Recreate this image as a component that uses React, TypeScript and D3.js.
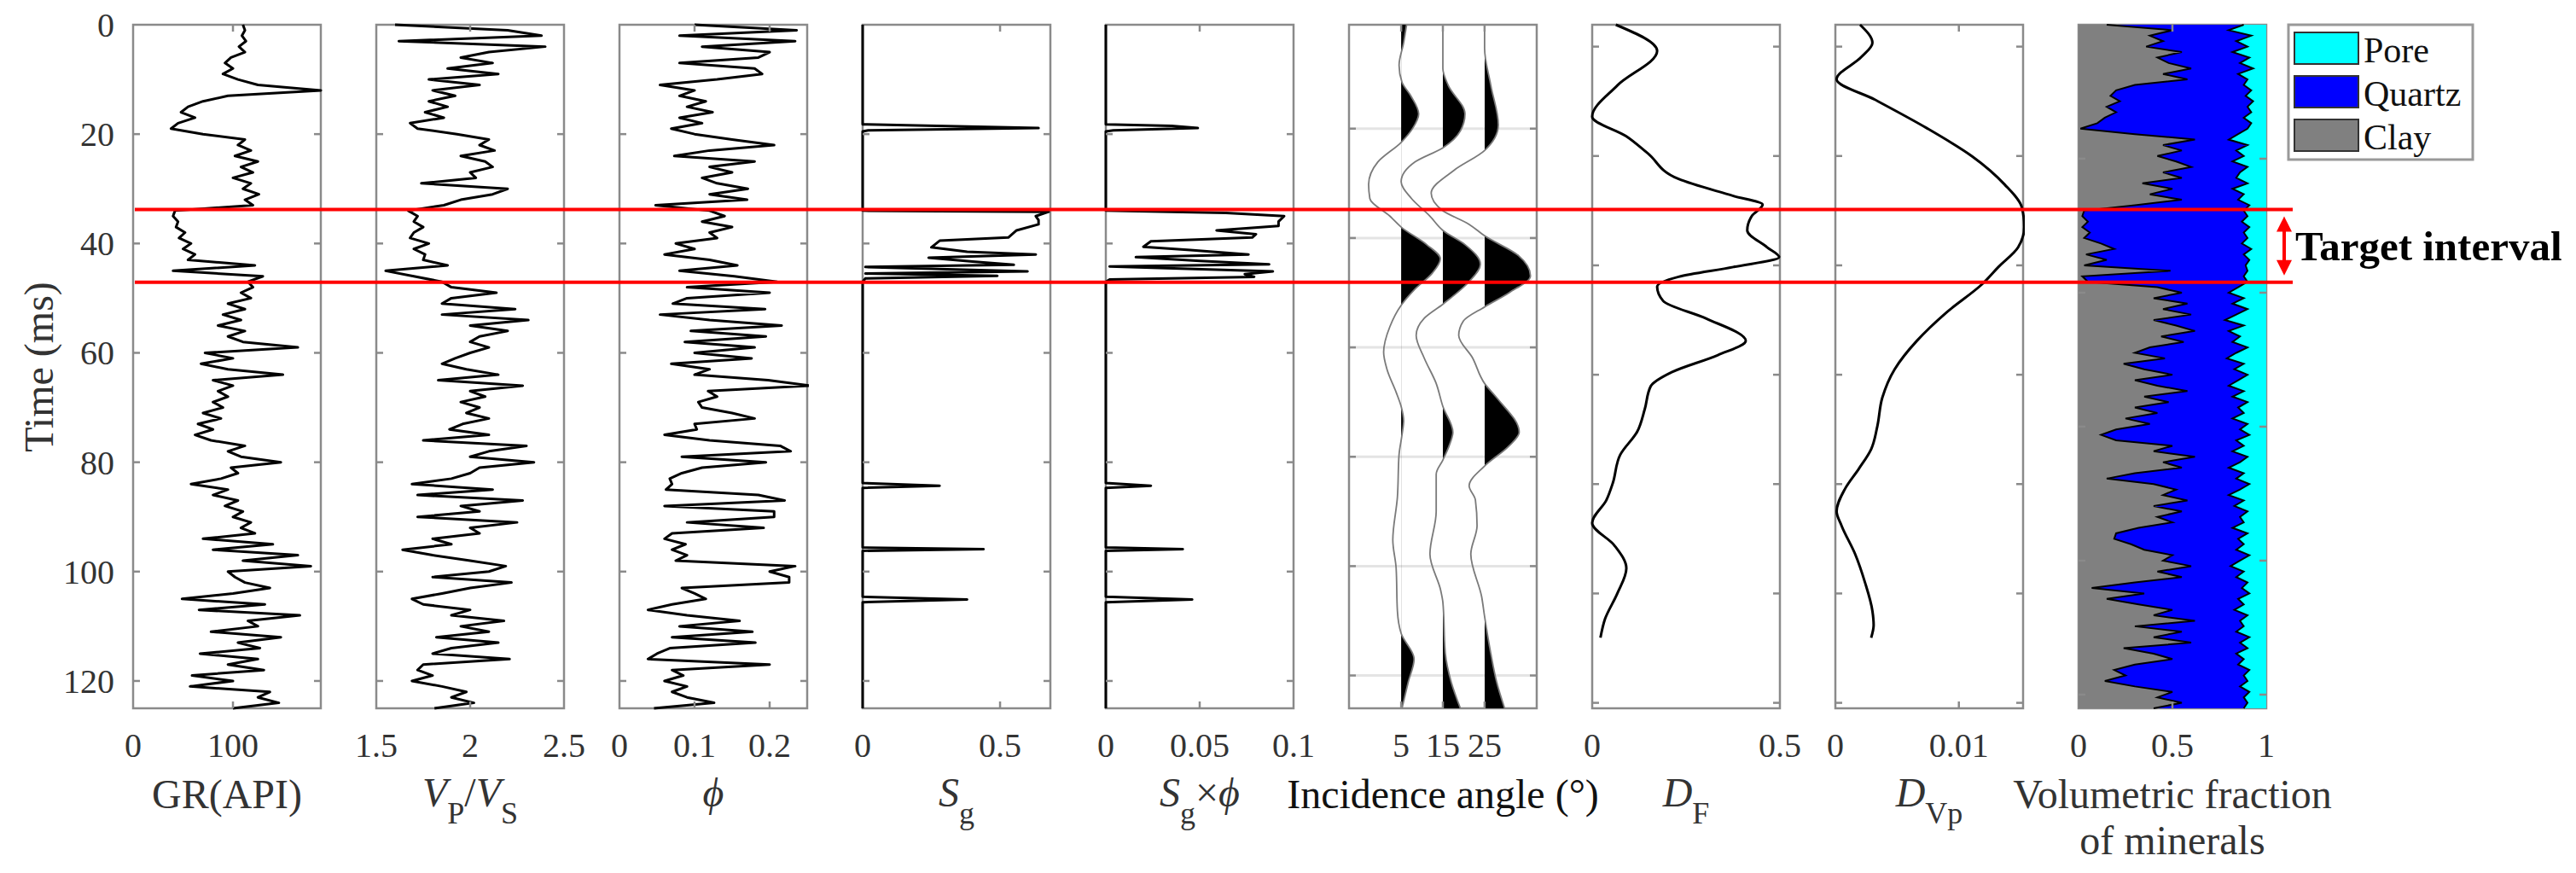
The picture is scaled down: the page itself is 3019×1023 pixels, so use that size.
import React from 'react';
import * as d3 from 'd3';

// page / layout
const WIDTH = 3019;
const HEIGHT = 1023;
const PLOT_TOP = 29;
const PLOT_BOTTOM = 830;
const PANEL_X0 = 156;
const PANEL_STEP = 285;
const PANEL_W = 220;
const FONT = '"Liberation Serif", "Times New Roman", serif';
const AXIS_GRAY = '#8a8a8a';
const TEXT_GRAY = '#333333';

// ---- data (time in ms) ----
const timeMs = d3.range(0, 126); // 1 ms sampling of the logs
const timeTicks = [20, 40, 60, 80, 100, 120];
const timeTickLabels = [0, 20, 40, 60, 80, 100, 120];
const seisTicks = [19, 39, 59, 79, 99, 119];
const attrTicks = [4, 24, 44, 64, 84, 104, 124];
const volTicks = [24.5, 49, 73.5, 98, 122.5];
const targetInterval = [33.8, 47.1];

const grApi = [
  110, 112, 109, 113, 106, 112, 98, 92, 100, 90,
  105, 125, 188, 95, 70, 55, 48, 62, 45, 38,
  70, 112, 105, 118, 102, 125, 108, 120, 100, 118,
  110, 126, 112, 120, 42, 40, 45, 43, 52, 46,
  58, 50, 62, 55, 122, 40, 130, 115, 120, 108,
  118, 95, 112, 90, 108, 85, 112, 95, 110, 165,
  72, 100, 68, 95, 150, 80, 100, 85, 95, 80,
  90, 70, 88, 65, 80, 62, 78, 112, 95, 108,
  148, 98, 105, 88, 58, 95, 80, 105, 92, 110,
  100, 118, 108, 122, 70, 140, 80, 165, 110, 178,
  95, 102, 112, 137, 100, 49, 132, 66, 167, 115,
  125, 78, 148, 105, 127, 67, 125, 95, 131, 59,
  100, 57, 137, 125, 146, 100,
];

const vpVs = [
  1.6, 2.2, 2.38, 1.62, 2.4, 2.1, 1.95, 2.12, 1.88, 2.15,
  1.78, 2.05, 1.8, 1.92, 1.78, 1.88, 1.76, 1.86, 1.68, 1.72,
  1.93, 2.1, 2.05, 2.13, 1.95, 2.08, 2.12, 2.0, 2.03, 1.74,
  2.2, 2.12, 1.95, 1.86, 1.67, 1.72, 1.7, 1.75, 1.7, 1.68,
  1.78, 1.7, 1.76, 1.75, 1.88, 1.55, 1.7, 1.85, 1.9, 2.14,
  1.9, 1.85, 2.24, 1.85, 2.31, 2.0, 2.2, 2.05, 2.0, 2.1,
  2.0, 1.92, 1.85, 1.98, 2.15, 1.83, 2.28, 2.0, 2.08, 1.95,
  2.05, 1.98, 2.1, 1.96, 1.89, 2.1, 1.75, 2.3, 2.1, 2.0,
  2.34, 2.05, 2.0, 1.9, 1.69, 2.12, 1.72, 2.28, 1.95, 2.05,
  1.72, 2.25, 2.0, 2.05, 1.8, 1.9, 1.64, 1.8, 2.0, 2.19,
  2.1, 1.8, 2.22, 2.0, 1.85, 1.69, 1.75, 2.0, 1.9, 2.18,
  1.95, 2.1, 1.82, 2.15, 1.9, 1.8, 2.21, 1.75, 1.72, 1.8,
  1.69, 1.85, 1.98, 1.9, 2.02, 1.81,
];

const porosity = [
  0.1, 0.236, 0.08, 0.234, 0.11, 0.2, 0.185, 0.08, 0.18, 0.19,
  0.13, 0.054, 0.1, 0.08, 0.115, 0.09, 0.124, 0.08, 0.11, 0.069,
  0.1, 0.15, 0.206, 0.12, 0.073, 0.18, 0.12, 0.15, 0.11, 0.13,
  0.171, 0.12, 0.17, 0.048, 0.12, 0.14, 0.11, 0.15, 0.12, 0.13,
  0.075, 0.1, 0.06, 0.12, 0.157, 0.08, 0.153, 0.21, 0.09, 0.2,
  0.09, 0.071, 0.194, 0.054, 0.12, 0.216, 0.095, 0.195, 0.087, 0.18,
  0.1, 0.176, 0.069, 0.12, 0.1, 0.198, 0.253, 0.118, 0.13, 0.105,
  0.11, 0.15, 0.18, 0.1, 0.103, 0.06, 0.12, 0.214, 0.228, 0.083,
  0.195, 0.11, 0.083, 0.067, 0.07, 0.062, 0.185, 0.22, 0.06, 0.206,
  0.206, 0.09, 0.192, 0.07, 0.06, 0.088, 0.07, 0.09, 0.075, 0.234,
  0.2, 0.226, 0.226, 0.083, 0.1, 0.115, 0.07, 0.038, 0.09, 0.16,
  0.08, 0.177, 0.07, 0.181, 0.067, 0.05, 0.038, 0.2, 0.07, 0.085,
  0.06, 0.09, 0.07, 0.09, 0.126, 0.046,
];

// gas saturation: [time, value]
const sgPoints = [
  [0, 0], [18.2, 0], [18.5, 0.27], [18.9, 0.64], [19.3, 0.02], [19.5, 0],
  [34.0, 0], [34.2, 0.677], [35.0, 0.63], [35.7, 0.64], [36.5, 0.64], [37.6, 0.56],
  [38.9, 0.53], [39.5, 0.28], [40.7, 0.25], [41.5, 0.38], [42.0, 0.63], [42.6, 0.24],
  [43.3, 0.4], [43.9, 0.55], [44.3, 0.01], [45.1, 0.6], [45.5, 0.01], [45.9, 0.49],
  [46.4, 0.01], [47.0, 0], [83.8, 0], [84.3, 0.28], [84.7, 0], [95.6, 0], [95.9, 0.44],
  [96.2, 0], [104.6, 0], [105.1, 0.38], [105.6, 0], [125, 0],
];

const sgPhiPoints = [
  [0, 0], [18.2, 0], [18.5, 0.035], [18.9, 0.049], [19.3, 0.004], [19.5, 0],
  [34.0, 0], [34.4, 0.064], [35.0, 0.095], [36.0, 0.092], [36.8, 0.092], [37.6, 0.059],
  [38.3, 0.08], [38.9, 0.078], [39.6, 0.024], [40.6, 0.02], [41.2, 0.045], [42.0, 0.076],
  [42.5, 0.016], [43.2, 0.05], [43.8, 0.087], [44.2, 0.002], [45.1, 0.089], [45.6, 0.074],
  [46.1, 0.079], [46.6, 0.002], [47.0, 0], [83.8, 0], [84.3, 0.024], [84.7, 0],
  [95.6, 0], [95.9, 0.041], [96.2, 0], [104.6, 0], [105.1, 0.046], [105.6, 0], [125, 0],
];

// synthetic gathers: [time, amplitude (in axis degrees)]
const incidenceAngles = [5, 15, 25];
const trace5 = [
  [0, 1.3], [3.3, 0.6], [7.4, -0.5], [10.5, 0.2], [13.1, 2.4], [16.3, 4.2], [18.9, 2.8],
  [21.5, 0], [25.1, -5.6], [29.2, -7.8], [31.8, -7.5], [35, -2.7], [37, 0], [40.2, 6.1],
  [42.8, 9.4], [45.4, 7.5], [48.5, 3.1], [51.3, 0], [55.2, -2.7], [59.9, -4.2], [63, -3.4],
  [67.2, -1.2], [69.8, 0], [72.4, 0.6], [75, 0.2], [78.6, -0.5], [86.4, -0.9], [94.2, -2.0],
  [99.4, -1.2], [107.2, -0.9], [111.3, 0], [116, 3.1], [120.2, 1.7], [125, 0.2],
];
const trace15 = [
  [0, 0], [8, 0], [11.1, 1.3], [16.3, 5.3], [19.4, 4.2], [22.5, 0], [25.1, -6.7],
  [28.7, -10], [31.8, -7.5], [35, -3.1], [37.6, 0], [40.2, 5.3], [43.8, 9.0], [46.9, 6.4],
  [51.1, 0], [53.7, -4.5], [56.8, -6.4], [60.9, -4.5], [65.6, -1.6], [69.8, 0], [74.5, 2.4],
  [77, 1.5], [79.6, 0], [82.2, -1.6], [89, -1.6], [96.8, -3.1], [103.5, -0.5], [105.6, 0],
  [115, 0.6], [120.2, 2.0], [125, 4.2],
];
const trace25 = [
  [0, 0], [4.3, 0], [11.1, 1.5], [18.3, 3.3], [23, 0], [26.6, -7.3], [30.8, -12.8],
  [33.9, -10.2], [36.5, -3.7], [38.6, 0], [42.2, 8.1], [45.9, 11.0], [49, 5.9], [51.6, 0],
  [54.2, -5.1], [56.8, -6.2], [60.9, -2.9], [65.6, 0], [68.2, 2.9], [74.5, 8.3], [77, 5.9],
  [80.7, 0], [84.3, -3.7], [86.9, -2.2], [91.6, -1.8], [96.8, -3.3], [104.6, -0.7],
  [108.2, 0], [115, 1.5], [120.2, 2.9], [125, 4.8],
];
const traces = [trace5, trace15, trace25];

const dfPoints = [
  [0, 0.063], [4.8, 0.173], [11.1, 0.067], [16.8, 0.0], [20.4, 0.091], [23.5, 0.148],
  [28.2, 0.23], [31.3, 0.376], [32.9, 0.454], [35, 0.425], [37.6, 0.413], [40.7, 0.466],
  [42.5, 0.498], [44.3, 0.376], [46.1, 0.23], [47.9, 0.173], [50.5, 0.189], [53.7, 0.303],
  [57.8, 0.409], [60.4, 0.335], [63.5, 0.213], [66.1, 0.156], [70.3, 0.14], [74.4, 0.12],
  [78.6, 0.075], [83.8, 0.055], [86.9, 0.038], [91.1, 0.0], [95.2, 0.059], [99.4, 0.091],
  [104, 0.067], [108.7, 0.034], [112.1, 0.022],
];

const dvpPoints = [
  [0, 0.002], [3.3, 0.003], [5.9, 0.0021], [10, 0.0001], [13.7, 0.0032], [18.9, 0.0074],
  [24.1, 0.0111], [29.2, 0.0137], [33.4, 0.0151], [37, 0.0153], [40.7, 0.0148],
  [44.3, 0.0132], [47.4, 0.0119], [52.6, 0.009], [57.8, 0.0066], [63, 0.0048],
  [68.2, 0.0038], [73.4, 0.0034], [77.6, 0.0029], [81.2, 0.0019], [84.8, 0.0008],
  [89, 0.0001], [91.6, 0.0005], [96.8, 0.0016], [102, 0.0024], [107.2, 0.003],
  [109.8, 0.0031], [112.1, 0.0029],
];

// volumetric fractions
const clayFrac = [
  0.15, 0.5, 0.38, 0.45, 0.36, 0.55, 0.42, 0.48, 0.6, 0.45,
  0.58, 0.3, 0.2, 0.17, 0.22, 0.15, 0.2, 0.14, 0.1, 0.01,
  0.3, 0.62, 0.45, 0.55, 0.42, 0.52, 0.6, 0.45, 0.55, 0.34,
  0.5, 0.38, 0.55, 0.3, 0.03, 0.02, 0.05, 0.02, 0.06, 0.03,
  0.12, 0.19, 0.04, 0.15, 0.03, 0.49, 0.02, 0.05, 0.42, 0.55,
  0.4, 0.58, 0.45, 0.6, 0.4, 0.52, 0.62, 0.44, 0.56, 0.38,
  0.3, 0.46, 0.24, 0.35, 0.5, 0.3, 0.42, 0.58, 0.35, 0.48,
  0.3, 0.42, 0.25, 0.38, 0.2, 0.12, 0.2, 0.5, 0.4, 0.62,
  0.45, 0.55, 0.3, 0.15, 0.4, 0.52, 0.45, 0.58, 0.4, 0.55,
  0.42, 0.5, 0.32, 0.2, 0.19, 0.28, 0.35, 0.5, 0.45, 0.6,
  0.42, 0.55, 0.3, 0.07, 0.35, 0.15, 0.32, 0.5, 0.4, 0.62,
  0.3, 0.55, 0.4, 0.6, 0.24, 0.4, 0.5, 0.3, 0.19, 0.25,
  0.14, 0.3, 0.5, 0.42, 0.55, 0.4,
];
const poreFrac = [
  0.12, 0.2, 0.08, 0.16, 0.1, 0.18, 0.09, 0.14, 0.07, 0.15,
  0.1, 0.12, 0.08, 0.11, 0.07, 0.1, 0.08, 0.12, 0.08, 0.1,
  0.15, 0.2, 0.1, 0.16, 0.12, 0.18, 0.1, 0.14, 0.16, 0.1,
  0.18, 0.12, 0.15, 0.09, 0.12, 0.1, 0.13, 0.09, 0.12, 0.1,
  0.13, 0.08, 0.12, 0.09, 0.11, 0.1, 0.12, 0.1, 0.15, 0.2,
  0.12, 0.18, 0.1, 0.16, 0.22, 0.12, 0.2, 0.14, 0.18, 0.1,
  0.16, 0.21, 0.12, 0.17, 0.1, 0.15, 0.2, 0.12, 0.18, 0.1,
  0.15, 0.12, 0.18, 0.1, 0.14, 0.09, 0.16, 0.12, 0.18, 0.1,
  0.14, 0.2, 0.12, 0.16, 0.09, 0.14, 0.2, 0.12, 0.17, 0.1,
  0.14, 0.12, 0.18, 0.1, 0.15, 0.12, 0.16, 0.09, 0.14, 0.19,
  0.12, 0.16, 0.1, 0.13, 0.09, 0.15, 0.12, 0.17, 0.1, 0.14,
  0.12, 0.16, 0.09, 0.14, 0.1, 0.16, 0.12, 0.15, 0.09, 0.12,
  0.1, 0.14, 0.09, 0.12, 0.1, 0.12,
];
const mineralNames = ['Pore', 'Quartz', 'Clay'];
const mineralColors = ['#00ffff', '#0000ff', '#808080'];

// ---- scales ----
const y = d3.scaleLinear().domain([0, 125]).range([PLOT_TOP, PLOT_BOTTOM]);

function panelX(i: number, domain: number[]) {
  const left = PANEL_X0 + i * PANEL_STEP;
  return d3.scaleLinear().domain(domain).range([left, left + PANEL_W]);
}

const xGr = panelX(0, [0, 188]);
const xVp = panelX(1, [1.5, 2.5]);
const xPhi = panelX(2, [0, 0.25]);
const xSg = panelX(3, [0, 0.683]);
const xSgPhi = panelX(4, [0, 0.1]);
const xInc = panelX(5, [-7.5, 37.5]);
const xDf = panelX(6, [0, 0.5]);
const xDvp = panelX(7, [0, 0.0152]);
const xVol = panelX(8, [0, 1]);

function logLine(x: any, values: number[]) {
  return d3.line<number>()
    .x((d) => x(values[d]))
    .y((d) => y(timeMs[d]))(d3.range(values.length)) as string;
}

function pairLine(x: any, pts: number[][], curve: any = d3.curveLinear) {
  return d3.line<number[]>()
    .x((d) => x(d[1]))
    .y((d) => y(d[0]))
    .curve(curve)(pts) as string;
}

function Frame({ x, yTicks, grid }: any) {
  const [l, r] = x.range();
  return (
    <g>
      {grid && yTicks.map((t: number) => (
        <line key={'g' + t} x1={l} x2={r} y1={y(t)} y2={y(t)} stroke="#e4e4e4" strokeWidth={3} />
      ))}
      <rect x={l} y={PLOT_TOP} width={r - l} height={PLOT_BOTTOM - PLOT_TOP} fill="none"
        stroke={AXIS_GRAY} strokeWidth={2.5} />
    </g>
  );
}

function Ticks({ x, xTicks, yTicks }: any) {
  const [l, r] = x.range();
  const len = 8;
  const [d0, d1] = x.domain();
  const inner = xTicks.filter((v: number) => v !== d0 && v !== d1);
  return (
    <g stroke={AXIS_GRAY} strokeWidth={2.5}>
      {yTicks.map((t: number) => (
        <g key={'y' + t}>
          <line x1={l} x2={l + len} y1={y(t)} y2={y(t)} />
          <line x1={r - len} x2={r} y1={y(t)} y2={y(t)} />
        </g>
      ))}
      {inner.map((v: number) => (
        <g key={'x' + v}>
          <line x1={x(v)} x2={x(v)} y1={PLOT_TOP} y2={PLOT_TOP + len} />
          <line x1={x(v)} x2={x(v)} y1={PLOT_BOTTOM - len} y2={PLOT_BOTTOM} />
        </g>
      ))}
    </g>
  );
}

function XTickLabels({ x, xTicks }: any) {
  return (
    <g fontSize={40} fill={TEXT_GRAY} textAnchor="middle">
      {xTicks.map((v: number) => (
        <text key={v} x={x(v)} y={887}>{String(v)}</text>
      ))}
    </g>
  );
}

function Clip({ id, x }: any) {
  const [l, r] = x.range();
  return (
    <clipPath id={id}>
      <rect x={l - 2} y={PLOT_TOP - 2} width={r - l + 4} height={PLOT_BOTTOM - PLOT_TOP + 4} />
    </clipPath>
  );
}

const center = (x: any) => (x.range()[0] + x.range()[1]) / 2;
const SUB = 36;
const SUB_DY = 20;

export default function App() {
  const panels = [
    { x: xGr, xTicks: [0, 100], yTicks: timeTicks },
    { x: xVp, xTicks: [1.5, 2, 2.5], yTicks: timeTicks },
    { x: xPhi, xTicks: [0, 0.1, 0.2], yTicks: timeTicks },
    { x: xSg, xTicks: [0, 0.5], yTicks: timeTicks },
    { x: xSgPhi, xTicks: [0, 0.05, 0.1], yTicks: timeTicks },
    { x: xInc, xTicks: incidenceAngles, yTicks: seisTicks, grid: true },
    { x: xDf, xTicks: [0, 0.5], yTicks: attrTicks },
    { x: xDvp, xTicks: [0, 0.01], yTicks: attrTicks },
    { x: xVol, xTicks: [0, 0.5, 1], yTicks: volTicks },
  ];

  const volIdx = d3.range(clayFrac.length);
  const clayArea = d3.area<number>()
    .y((d) => y(timeMs[d]))
    .x0(() => xVol(0))
    .x1((d) => xVol(clayFrac[d]));
  const quartzArea = d3.area<number>()
    .y((d) => y(timeMs[d]))
    .x0((d) => xVol(clayFrac[d]))
    .x1((d) => xVol(1 - poreFrac[d]));
  const poreArea = d3.area<number>()
    .y((d) => y(timeMs[d]))
    .x0((d) => xVol(1 - poreFrac[d]))
    .x1(() => xVol(1));
  const clayEdge = d3.line<number>().y((d) => y(timeMs[d])).x((d) => xVol(clayFrac[d]));
  const poreEdge = d3.line<number>().y((d) => y(timeMs[d])).x((d) => xVol(1 - poreFrac[d]));

  const lineStyle = { fill: 'none', stroke: '#000', strokeWidth: 3, strokeLinejoin: 'round' as const };

  const redLeft = xGr.range()[0] + 2;
  const redRight = 2687;
  const arrowX = 2677;
  const [ya, yb] = targetInterval.map((t) => y(t));

  return (
    <svg width={WIDTH} height={HEIGHT} fontFamily={FONT}
      style={{ position: 'absolute', left: 0, top: 0, background: '#fff' }}>
      <defs>
        {panels.map((p, i) => <Clip key={i} id={'clip' + i} x={p.x} />)}
      </defs>

      {panels.map((p, i) => (
        <Frame key={'f' + i} x={p.x} yTicks={p.yTicks} grid={p.grid} />
      ))}

      {/* log curves */}
      <path d={logLine(xGr, grApi)} {...lineStyle} clipPath="url(#clip0)" />
      <path d={logLine(xVp, vpVs)} {...lineStyle} clipPath="url(#clip1)" />
      <path d={logLine(xPhi, porosity)} {...lineStyle} clipPath="url(#clip2)" />
      <path d={pairLine(xSg, sgPoints)} {...lineStyle} clipPath="url(#clip3)" />
      <path d={pairLine(xSgPhi, sgPhiPoints)} {...lineStyle} clipPath="url(#clip4)" />

      {/* wiggle traces */}
      <g clipPath="url(#clip5)">
        {traces.map((tr, k) => {
          const base = incidenceAngles[k];
          const area = d3.area<number[]>()
            .y((d) => y(d[0]))
            .x0(() => xInc(base))
            .x1((d) => xInc(base + d[1]))
            .curve(d3.curveMonotoneY)(tr) as string;
          const line = d3.line<number[]>()
            .y((d) => y(d[0]))
            .x((d) => xInc(base + d[1]))
            .curve(d3.curveMonotoneY)(tr) as string;
          const cid = 'pos' + k;
          return (
            <g key={k}>
              <clipPath id={cid}>
                <rect x={xInc(base)} y={PLOT_TOP} width={xInc.range()[1] - xInc(base)} height={PLOT_BOTTOM - PLOT_TOP} />
              </clipPath>
              <path d={area} fill="#000" clipPath={`url(#${cid})`} />
              <path d={line} fill="none" stroke="#7a7a7a" strokeWidth={1.8} />
            </g>
          );
        })}
      </g>

      <path d={pairLine(xDf, dfPoints, d3.curveMonotoneY)} {...lineStyle} clipPath="url(#clip6)" />
      <path d={pairLine(xDvp, dvpPoints, d3.curveMonotoneY)} {...lineStyle} clipPath="url(#clip7)" />

      {/* volumetric fractions */}
      <g clipPath="url(#clip8)">
        <path d={clayArea(volIdx) as string} fill={mineralColors[2]} />
        <path d={quartzArea(volIdx) as string} fill={mineralColors[1]} />
        <path d={poreArea(volIdx) as string} fill={mineralColors[0]} />
        <path d={clayEdge(volIdx) as string} fill="none" stroke="#000" strokeWidth={2} />
        <path d={poreEdge(volIdx) as string} fill="none" stroke="#000" strokeWidth={2} />
      </g>

      {panels.map((p, i) => (
        <g key={'t' + i}>
          <Ticks x={p.x} xTicks={p.xTicks} yTicks={p.yTicks} />
          <XTickLabels x={p.x} xTicks={p.xTicks} />
        </g>
      ))}

      {/* time axis */}
      <g fontSize={40} fill={TEXT_GRAY} textAnchor="end">
        {timeTickLabels.map((t) => (
          <text key={t} x={xGr.range()[0] - 22} y={y(t) + 14}>{t}</text>
        ))}
      </g>
      <text transform="translate(62,430) rotate(-90)" textAnchor="middle" fontSize={48} fill={TEXT_GRAY}>Time (ms)</text>

      {/* axis labels */}
      <g fontSize={48} fill={TEXT_GRAY} textAnchor="middle">
        <text x={center(xGr)} y={947}>GR(API)</text>
        <text x={center(xVp)} y={945}>
          <tspan fontStyle="italic">V</tspan>
          <tspan fontSize={SUB} dy={SUB_DY}>P</tspan>
          <tspan dy={-SUB_DY}>/</tspan>
          <tspan fontStyle="italic">V</tspan>
          <tspan fontSize={SUB} dy={SUB_DY}>S</tspan>
        </text>
        <text x={center(xPhi)} y={945} fontStyle="italic">ϕ</text>
        <text x={center(xSg)} y={945}>
          <tspan fontStyle="italic">S</tspan>
          <tspan fontSize={SUB} dy={SUB_DY}>g</tspan>
        </text>
        <text x={center(xSgPhi)} y={945}>
          <tspan fontStyle="italic">S</tspan>
          <tspan fontSize={SUB} dy={SUB_DY}>g</tspan>
          <tspan dy={-SUB_DY}>×</tspan>
          <tspan fontStyle="italic">ϕ</tspan>
        </text>
        <text x={center(xInc)} y={947} fill="#111">Incidence angle (°)</text>
        <text x={center(xDf)} y={945}>
          <tspan fontStyle="italic">D</tspan>
          <tspan fontSize={SUB} dy={SUB_DY}>F</tspan>
        </text>
        <text x={center(xDvp)} y={945}>
          <tspan fontStyle="italic">D</tspan>
          <tspan fontSize={SUB} dy={SUB_DY}>Vp</tspan>
        </text>
        <text x={center(xVol)} y={947}>Volumetric fraction</text>
        <text x={center(xVol)} y={1001}>of minerals</text>
      </g>

      {/* target interval */}
      {[ya, yb].map((yy, k) => (
        <line key={k} x1={redLeft} x2={redRight} y1={yy} y2={yy} stroke="#ff0000" strokeWidth={4} />
      ))}
      <line x1={arrowX} x2={arrowX} y1={ya + 22} y2={yb - 22} stroke="#ff0000" strokeWidth={4} />
      <path d={`M${arrowX},${ya + 8} L${arrowX - 9},${ya + 26} L${arrowX + 9},${ya + 26} Z`} fill="#ff0000" />
      <path d={`M${arrowX},${yb - 8} L${arrowX - 9},${yb - 26} L${arrowX + 9},${yb - 26} Z`} fill="#ff0000" />
      <text x={2690} y={(ya + yb) / 2 + 17} fontSize={49} fontWeight="bold" fill="#000">Target interval</text>

      {/* legend */}
      <g>
        <rect x={2682} y={29} width={216} height={158} fill="#fff" stroke="#999" strokeWidth={3} />
        {mineralNames.map((name, k) => (
          <g key={name}>
            <rect x={2689} y={38 + k * 51} width={75} height={37} fill={mineralColors[k]} stroke="#333" strokeWidth={2} />
            <text x={2770} y={73 + k * 51} fontSize={42} fill="#111">{name}</text>
          </g>
        ))}
      </g>
    </svg>
  );
}
